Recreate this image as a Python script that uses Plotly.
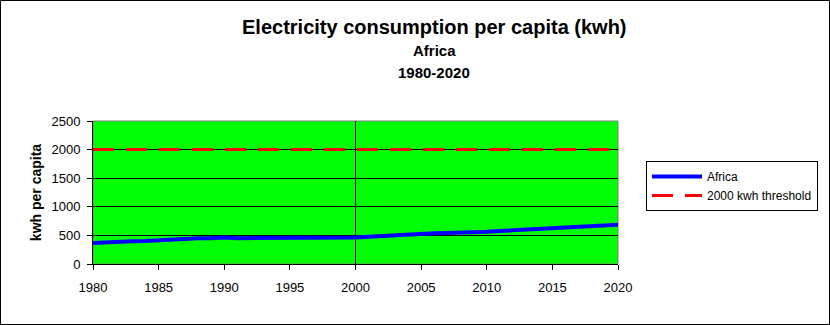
import plotly.graph_objects as go

# Per-capita electricity consumption, Africa (kWh)
years = list(range(1980, 2021))
africa_kwh = [
    365, 381, 386, 399, 403, 416, 434, 441, 451, 451,
    462, 451, 451, 451, 451, 451, 451, 451, 451, 451,
    462, 478, 493, 504, 512, 527, 537, 540, 545, 550,
    562, 578, 590, 598, 605, 618, 634, 652, 668, 677,
    685,
]
threshold_kwh = [2000] * len(years)

title_lines = ["Electricity consumption per capita (kwh)", "Africa", "1980-2020"]
y_ticks = [0, 500, 1000, 1500, 2000, 2500]
x_ticks = list(range(1980, 2021, 5))

FONT = "Arial, Liberation Sans, sans-serif"
W, H = 830, 325
L, R, T, B = 93, 212, 121, 61
PW, PH = W - L - R, H - T - B


def px_x(p):
    return (p - L) / PW


def px_y(p):
    return (H - B - p) / PH


fig = go.Figure()
fig.add_trace(go.Scatter(
    x=years, y=africa_kwh, name="Africa", mode="lines",
    line=dict(color="#0000FF", width=4),
))
fig.add_trace(go.Scatter(
    x=years, y=threshold_kwh, name="2000 kwh threshold", mode="lines",
    line=dict(color="#FF0000", width=3, dash="21px,12px"),
))

fig.update_layout(
    width=W, height=H,
    margin=dict(l=L, r=R, t=T, b=B, autoexpand=False),
    paper_bgcolor="white",
    plot_bgcolor="#00FF00",
    font=dict(family=FONT, size=13, color="black"),
    showlegend=True,
    legend=dict(
        x=px_x(646), y=px_y(161), xanchor="left", yanchor="top",
        bgcolor="white", bordercolor="black", borderwidth=1,
        font=dict(family=FONT, size=12, color="black"),
        itemwidth=50,
    ),
    xaxis=dict(
        range=[1980, 2020], tickvals=x_ticks, ticktext=[str(v) for v in x_ticks],
        showgrid=False, zeroline=False,
        showline=True, linecolor="black", linewidth=1,
        ticks="outside", ticklen=5, tickcolor="black",
        ticklabelstandoff=6,
        tickfont=dict(family=FONT, size=13, color="black"),
    ),
    yaxis=dict(
        range=[0, 2500], tickvals=y_ticks, ticktext=[str(v) for v in y_ticks],
        showgrid=True, gridcolor="black", gridwidth=1, zeroline=False,
        showline=True, linecolor="black", linewidth=1,
        ticks="outside", ticklen=5, tickcolor="black",
        ticklabelstandoff=4,
        tickfont=dict(family=FONT, size=13, color="black"),
        title=dict(text="<b>kwh per capita</b>", standoff=6,
                   font=dict(family=FONT, size=14, color="black")),
    ),
)

# Title block
for text, ypix, size in [
    (title_lines[0], 27, 20),
    (title_lines[1], 51, 15),
    (title_lines[2], 72, 15),
]:
    fig.add_annotation(
        x=px_x(434), y=px_y(ypix), xref="paper", yref="paper",
        text=f"<b>{text}</b>", showarrow=False,
        font=dict(family=FONT, size=size, color="black"),
        xanchor="center", yanchor="middle",
    )

# Plot-area frame and the reference line at 2000
fig.add_shape(type="rect", xref="paper", yref="paper", x0=0, x1=1, y0=0, y1=1,
              line=dict(color="#808080", width=1), layer="between")
fig.add_shape(type="line", xref="x", yref="paper", x0=2000, x1=2000, y0=0, y1=1,
              line=dict(color="black", width=1), layer="between")
# Outer chart border
fig.add_shape(type="rect", xref="paper", yref="paper",
              x0=px_x(0.5), x1=px_x(W - 0.5), y0=px_y(H - 0.5), y1=px_y(0.5),
              line=dict(color="black", width=1), layer="above")

fig.write_html("out.html")
